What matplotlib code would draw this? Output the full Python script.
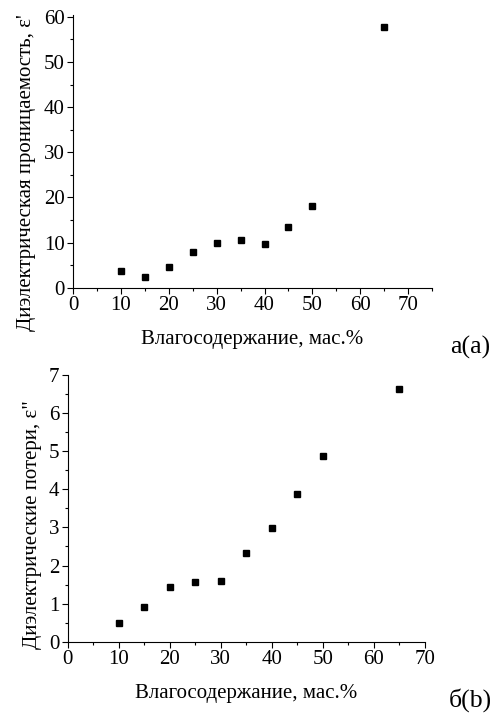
import matplotlib
matplotlib.use('Agg')
import matplotlib.pyplot as plt
from matplotlib.ticker import MultipleLocator

plt.rcParams['font.family'] = ['Liberation Serif', 'DejaVu Serif']

# влагосодержание, мас.%
moisture = [10, 15, 20, 25, 30, 35, 40, 45, 50, 65]
# диэлектрическая проницаемость e'
eps_real = [3.6, 2.3, 4.6, 7.9, 9.9, 10.6, 9.7, 13.5, 18.1, 57.8]
# диэлектрические потери e"
eps_imag = [0.5, 0.9, 1.43, 1.56, 1.6, 2.33, 2.99, 3.87, 4.88, 6.63]

xlabel = 'Влагосодержание, мас.%'
ylabel_a = "Диэлектрическая проницаемость, ε'"
ylabel_b = 'Диэлектрические потери, ε"'

FS = 15

fig = plt.figure(figsize=(4.97, 7.13), dpi=100)

def style(ax):
    for s in ['top', 'right']:
        ax.spines[s].set_visible(False)
    ax.tick_params(which='major', direction='out', length=4, width=0.8, labelsize=FS, pad=2)
    ax.tick_params(which='minor', direction='out', length=2.5, width=0.8)

# a
ax1 = fig.add_axes([0.147, 0.5965, 0.7223, 0.383])
ax1.plot(moisture, eps_real, 's', color='black', markersize=5)
ax1.set_xlim(0, 75)
ax1.set_ylim(0, 60.5)
ax1.xaxis.set_major_locator(MultipleLocator(10))
ax1.xaxis.set_minor_locator(MultipleLocator(5))
ax1.yaxis.set_major_locator(MultipleLocator(10))
ax1.yaxis.set_minor_locator(MultipleLocator(5))
style(ax1)
ax1.set_xlabel(xlabel, fontsize=FS, labelpad=11)
ax1.set_ylabel(ylabel_a, fontsize=FS)
ax1.yaxis.set_label_coords(-0.102, 0.42)
fig.text(0.946, 0.513, 'а(а)', fontsize=18.5, ha='center', va='center')

# б
ax2 = fig.add_axes([0.1362, 0.1, 0.7189, 0.374])
ax2.plot(moisture, eps_imag, 's', color='black', markersize=5)
ax2.set_xlim(0, 70)
ax2.set_ylim(0, 7)
ax2.xaxis.set_major_locator(MultipleLocator(10))
ax2.xaxis.set_minor_locator(MultipleLocator(5))
ax2.yaxis.set_major_locator(MultipleLocator(1))
ax2.yaxis.set_minor_locator(MultipleLocator(0.5))
style(ax2)
ax2.set_xlabel(xlabel, fontsize=FS, labelpad=11)
ax2.set_ylabel(ylabel_b, fontsize=FS)
ax2.yaxis.set_label_coords(-0.071, 0.44)
fig.text(0.946, 0.018, 'б(b)', fontsize=18.5, ha='center', va='center')

fig.savefig('out.png', dpi=100)
